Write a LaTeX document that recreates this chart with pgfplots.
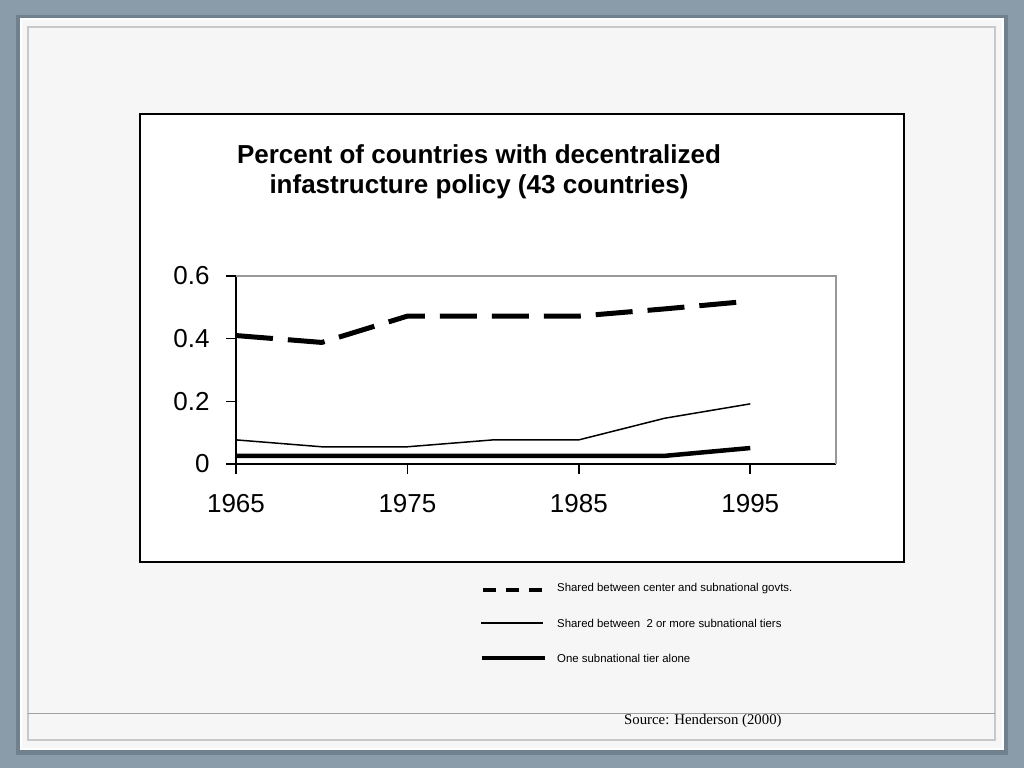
\documentclass[border=0pt]{standalone}
\usepackage{pgfplots}
\pgfplotsset{compat=1.18}
\usepackage{fontspec}
\setmainfont{Liberation Sans}
\newfontfamily\srcfont{Liberation Serif}
\definecolor{bgblue}{RGB}{138,156,170}
\definecolor{bgshadow}{RGB}{112,128,141}
\definecolor{slide}{RGB}{246,246,246}
\definecolor{framegray}{RGB}{200,200,200}
\begin{document}
\begin{tikzpicture}
\useasboundingbox (0pt,0pt) rectangle (1024pt,-768pt);
\fill[bgblue] (0pt,0pt) rectangle (1024pt,-768pt);
\fill[bgshadow] (16pt,-15pt) rectangle (1008pt,-755pt);
\fill[white] (20pt,-18pt) rectangle (1004pt,-750pt);
\fill[slide] (22pt,-20pt) rectangle (1002pt,-748pt);
\draw[framegray, line width=1.2pt] (28pt,-27pt) rectangle (995pt,-740pt);
\draw[framegray!80!black, line width=1pt] (28pt,-713pt) -- (995pt,-713pt);
\fill[white] (140pt,-114pt) rectangle (904pt,-562pt);
\draw[black, line width=2pt] (140pt,-114pt) rectangle (904pt,-562pt);
\node[font=\bfseries\fontsize{26}{30}\selectfont, align=center, anchor=center] at (479pt,-172pt)
  {Percent of countries with decentralized\\infastructure policy (43 countries)};
\begin{axis}[
  at={(236pt,-464pt)}, anchor=south west,
  scale only axis, width=600pt, height=188pt,
  xmin=1965, xmax=2000, ymin=0, ymax=0.6,
  axis lines=left,
  axis line style={-, black, line width=1.6pt},
  tick style={black, line width=1.6pt},
  tick align=outside,
  major tick length=10pt,
  xtick={1965,1975,1985,1995},
  xticklabels={1965,1975,1985,1995},
  ytick={0,0.2,0.4,0.6},
  yticklabels={0,0.2,0.4,0.6},
  /pgf/number format/assume math mode=true,
  tick label style={font=\fontsize{26}{26}\selectfont},
  yticklabel style={xshift=-13pt},
  xticklabel style={yshift=-17pt},
  clip=false,
]
\draw[gray!80, line width=1.6pt] (axis cs:1965,0.6) -- (axis cs:2000,0.6) -- (axis cs:2000,0);
\addplot[black, line width=5pt, dash pattern=on 37pt off 15pt] coordinates {
  (1965,0.41) (1970,0.388) (1975,0.472) (1980,0.472) (1985,0.472) (1990,0.495) (1995,0.52)};
\addplot[black, line width=1.5pt] coordinates {
  (1965,0.077) (1970,0.055) (1975,0.055) (1980,0.077) (1985,0.077) (1990,0.146) (1995,0.192)};
\addplot[black, line width=4.5pt] coordinates {
  (1965,0.026) (1970,0.026) (1975,0.026) (1980,0.026) (1985,0.026) (1990,0.026) (1995,0.051)};
\end{axis}
\draw[black, line width=4.5pt, dash pattern=on 13pt off 10pt] (483pt,-590pt) -- (543pt,-590pt);
\draw[black, line width=1.3pt] (481pt,-623pt) -- (543pt,-623pt);
\draw[black, line width=4.5pt] (482pt,-658pt) -- (545pt,-658pt);
\begin{scope}[every node/.style={anchor=west, font=\fontsize{11.4}{13}\selectfont, inner sep=0pt}]
\node at (557pt,-589pt) {Shared between center and subnational govts.};
\node at (557pt,-623pt) {Shared between \ 2 or more subnational tiers};
\node at (557pt,-658pt) {One subnational tier alone};
\end{scope}
\node[anchor=west, inner sep=0pt, font=\srcfont\fontsize{14.8}{16}\selectfont] at (624pt,-721pt) {Source: Henderson (2000)};
\end{tikzpicture}
\end{document}
